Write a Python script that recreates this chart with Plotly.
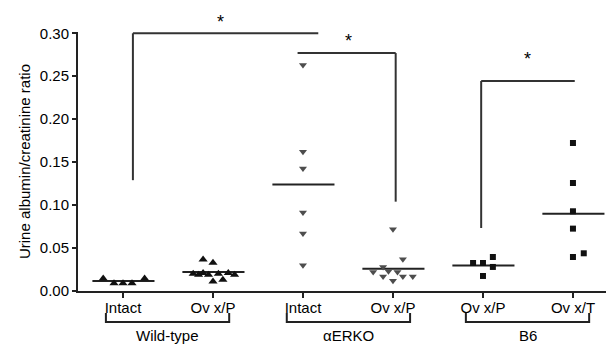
import plotly.graph_objects as go

# ---- data ----
categories = ["Intact", "Ov x/P", "Intact", "Ov x/P", "Ov x/P", "Ov x/T"]
groups = ["Wild-type", "\u03b1ERKO", "B6"]

wt_intact = [0.0145, 0.009, 0.009, 0.009, 0.0145]
wt_ovxp = [0.0366, 0.033, 0.020, 0.019, 0.021, 0.019, 0.020, 0.021, 0.019, 0.011, 0.013]
erko_intact = [0.263, 0.162, 0.1425, 0.0913, 0.0668, 0.030]
erko_ovxp = [0.072, 0.037, 0.028, 0.022, 0.023, 0.022, 0.017, 0.012, 0.017, 0.017]
b6_ovxp = [0.0326, 0.0326, 0.0396, 0.028, 0.0175]
b6_ovxt = [0.1723, 0.1257, 0.0928, 0.0726, 0.0396, 0.0439]

means = [0.0116, 0.022, 0.124, 0.026, 0.0296, 0.090]

# significance brackets: (x_start, x_end, y_top, y_left_bottom, y_right_bottom)
sig_brackets = [
    (0.11, 2.17, 0.300, 0.129, None),
    (1.94, 3.03, 0.277, None, 0.104),
    (3.98, 5.02, 0.2445, 0.0733, None),
]
stars_x = [1.08, 2.51, 4.50]
stars_y = [0.300, 0.2915, 0.2695]
stars_shift = [11, 0, 0]   # first star sits above the top of the axis

# ---- layout / style (horizontal scatter offsets in category units) ----
offsets = [
    [-0.22, -0.10, 0.0, 0.10, 0.24],
    [-0.11, 0.0, -0.22, -0.16, -0.11, -0.05, 0.06, 0.17, 0.24, 0.0, 0.11],
    [0, 0, 0, 0, 0, 0],
    [0.0, 0.11, -0.11, -0.22, -0.05, 0.05, -0.11, 0.0, 0.11, 0.22],
    [-0.11, 0.0, 0.11, 0.11, 0.0],
    [0.0, 0.0, 0.0, 0.0, 0.0, 0.12],
]
series = [wt_intact, wt_ovxp, erko_intact, erko_ovxp, b6_ovxp, b6_ovxt]
symbols = ["triangle-up", "triangle-up", "triangle-down", "triangle-down", "square", "square"]
colors = ["#111111", "#111111", "#4d4d4d", "#4d4d4d", "#111111", "#111111"]
sizes = [8, 8, 7, 7, 6, 6]

FONT = "Liberation Sans, Arial, Helvetica, sans-serif"
FS = 15
fig = go.Figure()

# mean lines
for i, m in enumerate(means):
    fig.add_trace(go.Scatter(
        x=[i - 0.34, i + 0.35], y=[m, m], mode="lines",
        line=dict(color="#222222", width=2), showlegend=False, hoverinfo="skip"))

# points
for i, vals in enumerate(series):
    fig.add_trace(go.Scatter(
        x=[i + o for o in offsets[i]], y=vals, mode="markers",
        marker=dict(symbol=symbols[i], color=colors[i], size=sizes[i], line=dict(width=0)),
        showlegend=False, cliponaxis=False))

shapes = []
bcol = "#333333"
for (x0, x1, yt, yl, yr) in sig_brackets:
    shapes.append(dict(type="line", xref="x", yref="y", x0=x0, x1=x1, y0=yt, y1=yt,
                       line=dict(color=bcol, width=2)))
    if yl is not None:
        shapes.append(dict(type="line", xref="x", yref="y", x0=x0, x1=x0, y0=yl, y1=yt,
                           line=dict(color=bcol, width=2)))
    if yr is not None:
        shapes.append(dict(type="line", xref="x", yref="y", x0=x1, x1=x1, y0=yr, y1=yt,
                           line=dict(color=bcol, width=2)))

# group brackets under the axis
group_spans = [(-0.19, 1.18), (1.82, 3.19), (3.81, 5.18)]
for (x0, x1) in group_spans:
    shapes.append(dict(type="path", xref="x", yref="paper",
                       path=f"M {x0},-0.085 L {x0},-0.12 L {x1},-0.12 L {x1},-0.085",
                       line=dict(color="#222222", width=2)))

annotations = []
for sx, sy, sh in zip(stars_x, stars_y, stars_shift):
    annotations.append(dict(x=sx, y=sy, xref="x", yref="y", text="*", showarrow=False,
                            yshift=sh, font=dict(family=FONT, size=18, color="black"),
                            xanchor="center", yanchor="middle"))
for g, (x0, x1) in zip(groups, group_spans):
    annotations.append(dict(x=(x0 + x1) / 2, y=-0.17, xref="x", yref="paper", text=g,
                            showarrow=False, font=dict(family=FONT, size=FS, color="black"),
                            xanchor="center", yanchor="middle"))

# page body has an 8px margin; figure is sized to fill the remaining window
fig.update_layout(
    width=606, height=336,
    margin=dict(l=70, r=0, t=24, b=53),
    paper_bgcolor="white", plot_bgcolor="white",
    font=dict(family=FONT, size=FS, color="black"),
    shapes=shapes, annotations=annotations,
    xaxis=dict(range=[-0.5, 5.456], tickvals=list(range(6)), ticktext=categories,
               showgrid=False, zeroline=False, showline=True, linecolor="#222222",
               linewidth=2, ticks="outside", ticklen=5, tickwidth=2, tickcolor="#222222",
               ticklabelstandoff=-3,
               tickfont=dict(family=FONT, size=FS, color="black")),
    yaxis=dict(range=[0, 0.3015], tickvals=[0, 0.05, 0.10, 0.15, 0.20, 0.25, 0.30],
               tickformat=".2f", showgrid=False, zeroline=False, showline=True,
               linecolor="#222222", linewidth=2, ticks="outside", ticklen=4, tickwidth=2,
               tickcolor="#222222", tickfont=dict(family=FONT, size=FS, color="black"),
               title=dict(text="Urine albumin/creatinine ratio", standoff=6,
                          font=dict(family=FONT, size=FS, color="black"))),
)

fig.write_html("out.html")
